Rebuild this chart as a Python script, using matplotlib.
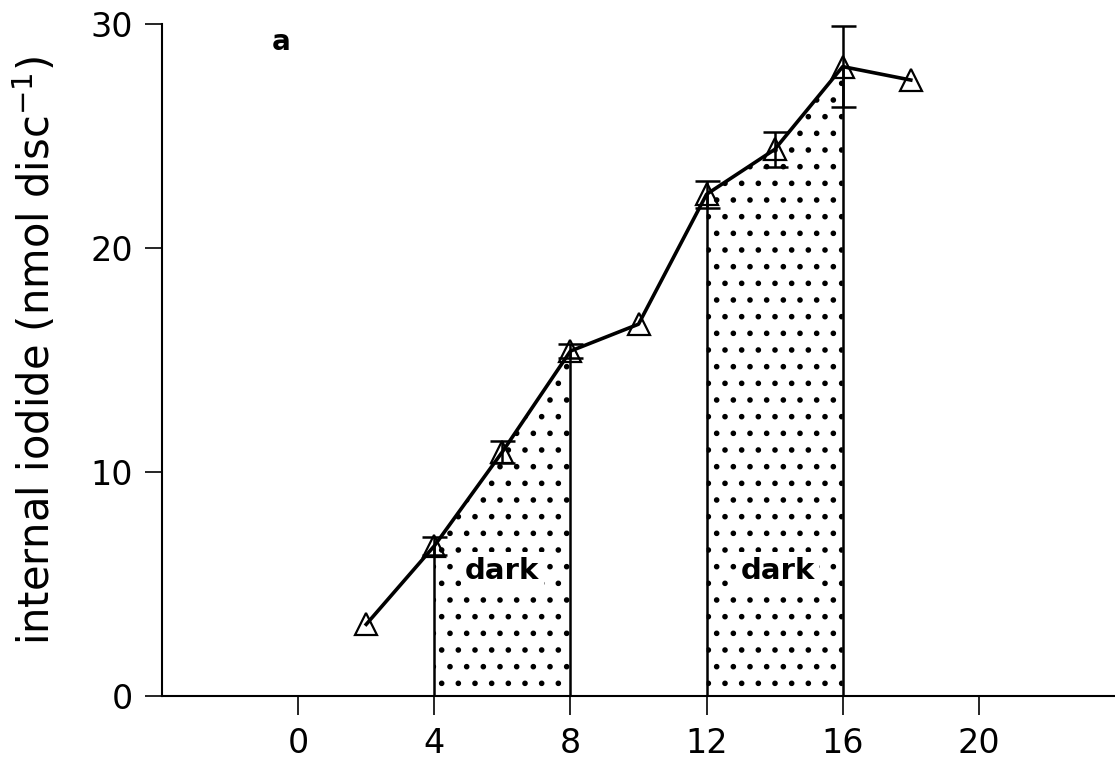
import numpy as np
import matplotlib
matplotlib.use('Agg')
import matplotlib.pyplot as plt

# time (h) and internal iodide (nmol disc^-1)
time_h = [2, 4, 6, 8, 10, 12, 14, 16, 18]
iodide = [3.2, 6.7, 10.9, 15.4, 16.6, 22.4, 24.4, 28.1, 27.5]
iodide_err = [0, 0.4, 0.5, 0.3, 0, 0.6, 0.8, 1.8, 0]

# dark periods (h)
dark_periods = [(4, 8), (12, 16)]
dark_label_x = [6, 14.1]
dark_label_y = 5.6

x_ticks = [0, 4, 8, 12, 16, 20]
y_ticks = [0, 10, 20, 30]

plt.rcParams['font.family'] = ['DejaVu Sans']
plt.rcParams['hatch.linewidth'] = 1.6

fig = plt.figure(figsize=(11.15, 7.61), dpi=100)
ax = fig.add_axes([0.1453, 0.0854, 0.8547, 0.883])

t = np.array(time_h, dtype=float)
v = np.array(iodide, dtype=float)

# stippled dark periods under the curve
for start, end in dark_periods:
    mask = (t >= start) & (t <= end)
    ax.fill_between(t[mask], 0, v[mask], facecolor='white', edgecolor='black',
                    hatch='.', linewidth=0, zorder=1)
    for edge in (start, end):
        ax.plot([edge, edge], [0, np.interp(edge, t, v)], color='black', lw=1.8, zorder=2)

for xl in dark_label_x:
    ax.text(xl, dark_label_y, 'dark', ha='center', va='center', fontsize=21,
            fontweight='bold', zorder=3,
            bbox=dict(facecolor='white', edgecolor='none', pad=3))

# error bars only where present
err = np.array(iodide_err)
has_err = err > 0
ax.errorbar(t[has_err], v[has_err], yerr=err[has_err], fmt='none', ecolor='black',
            elinewidth=1.8, capsize=9, capthick=1.8, zorder=4)

ax.plot(t, v, color='black', lw=2.6, zorder=5)
ax.plot(t, v, linestyle='none', marker='^', markersize=16, markerfacecolor='none',
        markeredgecolor='black', markeredgewidth=1.6, zorder=6)

ax.text(-0.5, 29.2, 'a', fontsize=20, fontweight='bold', ha='center', va='center')

ax.set_xlim(-4, 24)
ax.set_ylim(0, 30)
ax.set_xticks(x_ticks)
ax.set_yticks(y_ticks)
ax.tick_params(axis='x', direction='out', length=14, width=1.2, pad=8, labelsize=24)
ax.tick_params(axis='y', direction='out', length=12, width=1.2, pad=9, labelsize=24)

for side in ('top', 'right'):
    ax.spines[side].set_visible(False)
for side in ('left', 'bottom'):
    ax.spines[side].set_linewidth(1.5)

ax.set_ylabel('internal iodide (nmol disc$^{-1}$)', fontsize=30)
ax.yaxis.set_label_coords(-0.108, 0.515)

fig.savefig('out.png', dpi=100)
